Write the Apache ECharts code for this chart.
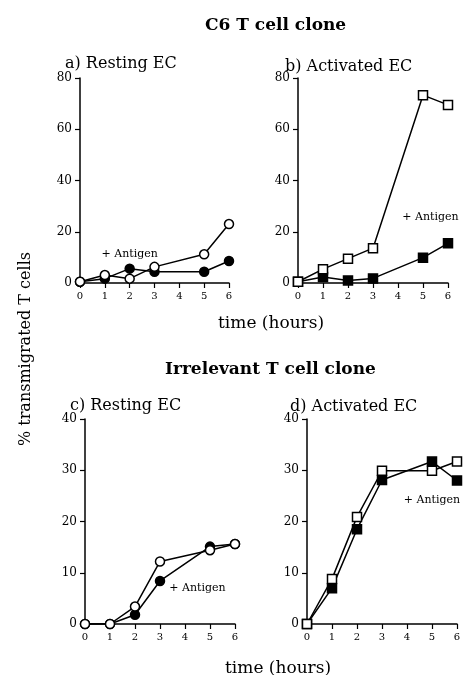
<!DOCTYPE html>
<html>
<head>
<meta charset="utf-8">
<script src="https://cdn.jsdelivr.net/npm/echarts@6/dist/echarts.min.js"></script>
<style>
  html, body { margin: 0; padding: 0; background: #fff; }
  #main { width: 464px; height: 675px; }
</style>
</head>
<body>
<div id="main"></div>
<script>
var hours = [0, 1, 2, 3, 5, 6];

// C6 T cell clone
var restingC6 = [0.5, 3.1, 1.7, 6.3, 11.2, 23];
var restingC6Ag = [0.5, 1.7, 5.6, 4.4, 4.4, 8.6];
var activatedC6 = [0.5, 5.4, 9.5, 13.6, 73.3, 69.5];
var activatedC6Ag = [0.5, 2.3, 1.0, 1.8, 9.9, 15.5];

// Irrelevant T cell clone
var restingIrr = [0, 0, 3.4, 12.2, 14.4, 15.6];
var restingIrrAg = [0, 0, 1.8, 8.4, 15.1, 15.6];
var activatedIrr = [0, 8.8, 20.9, 29.9, 29.9, 31.7];
var activatedIrrAg = [0, 7.0, 18.5, 28.1, 31.7, 28.0];

var antigenSpots = [[2.0, 11.4], [5.3, 25.8], [4.5, 6.9], [5.0, 24.1]];

var serif = 'DejaVu Serif';

function pairs(ys) {
  return hours.map(function (h, i) { return [h, ys[i]]; });
}

var chart = echarts.init(document.getElementById('main'));

var grids = [
  { left: 80, top: 78, width: 149, height: 205 },
  { left: 298, top: 78, width: 150, height: 205 },
  { left: 85, top: 419, width: 150, height: 205 },
  { left: 307, top: 419, width: 150, height: 205 }
];

function xAxisFor(i) {
  return {
    gridIndex: i, type: 'value', min: 0, max: 6, interval: 1,
    axisLine: { lineStyle: { color: '#000', width: 1.5 } },
    axisTick: { inside: false, length: 5, lineStyle: { color: '#000', width: 1.2 } },
    axisLabel: { color: '#000', fontFamily: serif, fontSize: 10, margin: 8 },
    splitLine: { show: false }
  };
}

function yAxisFor(i, max, step) {
  return {
    gridIndex: i, type: 'value', min: 0, max: max, interval: step,
    axisLine: { show: true, lineStyle: { color: '#000', width: 1.5 } },
    axisTick: { show: true, inside: false, length: 5, lineStyle: { color: '#000', width: 1.2 } },
    axisLabel: { color: '#000', fontFamily: serif, fontSize: 12, margin: 8 },
    splitLine: { show: false }
  };
}

function line(i, data, symbol, filled, antigen) {
  var s = {
    type: 'line', xAxisIndex: i, yAxisIndex: i,
    data: pairs(data),
    symbol: symbol, symbolSize: 9,
    showAllSymbol: true,
    lineStyle: { color: '#000', width: 1.5 },
    itemStyle: { color: filled ? '#000' : '#fff', borderColor: '#000', borderWidth: 1.5 },
    z: filled ? 3 : 4,
    animation: false
  };
  if (antigen) {
    s.markPoint = {
      symbol: 'rect',
      symbolSize: 1,
      itemStyle: { color: 'rgba(0,0,0,0)', borderWidth: 0 },
      label: { show: true, position: 'inside', formatter: '+ Antigen', color: '#000', fontFamily: serif, fontSize: 11 },
      data: [{ coord: antigenSpots[i] }]
    };
  }
  return s;
}

var titleText = { fontFamily: serif, fontWeight: 'normal', color: '#000', fontSize: 16 };
var timeText = { fontFamily: serif, fontWeight: 'normal', color: '#000', fontSize: 17 };
var headText = { fontFamily: serif, fontWeight: 'bold', color: '#000', fontSize: 17 };

var option = {
  backgroundColor: '#fff',
  animation: false,
  title: [
    { text: 'C6 T cell clone', left: 200, top: 12, textStyle: headText },
    { text: 'Irrelevant T cell clone', left: 160, top: 356, textStyle: headText },
    { text: 'a) Resting EC', left: 60, top: 51, textStyle: titleText },
    { text: 'b) Activated EC', left: 280, top: 54, textStyle: titleText },
    { text: 'c) Resting EC', left: 65, top: 393, textStyle: titleText },
    { text: 'd) Activated EC', left: 285, top: 394, textStyle: titleText },
    { text: 'time (hours)', left: 213, top: 310, textStyle: timeText },
    { text: 'time (hours)', left: 220, top: 655, textStyle: timeText }
  ],
  graphic: [{
    type: 'text', left: 18, top: 252, rotation: Math.PI / 2,
    style: { text: '% transmigrated T cells', font: '16px "DejaVu Serif"', fill: '#000' }
  }],
  grid: grids,
  xAxis: [xAxisFor(0), xAxisFor(1), xAxisFor(2), xAxisFor(3)],
  yAxis: [yAxisFor(0, 80, 20), yAxisFor(1, 80, 20), yAxisFor(2, 40, 10), yAxisFor(3, 40, 10)],
  series: [
    line(0, restingC6Ag, 'circle', true, true),
    line(0, restingC6, 'circle', false, false),
    line(1, activatedC6Ag, 'rect', true, true),
    line(1, activatedC6, 'rect', false, false),
    line(2, restingIrrAg, 'circle', true, true),
    line(2, restingIrr, 'circle', false, false),
    line(3, activatedIrrAg, 'rect', true, true),
    line(3, activatedIrr, 'rect', false, false)
  ]
};

chart.setOption(option);
</script>
</body>
</html>
